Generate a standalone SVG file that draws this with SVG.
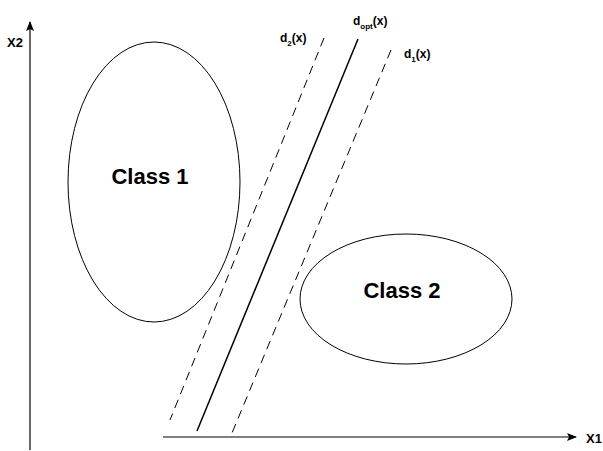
<svg xmlns="http://www.w3.org/2000/svg" width="603" height="451" viewBox="0 0 603 451">
<style>
.lbl{font-family:"Liberation Sans",Arial,sans-serif;font-weight:bold;fill:#000}
.cls{font-size:22px;text-anchor:middle}
.sm{font-size:12px}
.sub{font-size:8px}
.ax{stroke:#000;stroke-width:1.2;fill:none}
.dash{stroke:#000;stroke-width:1;stroke-dasharray:9 6;fill:none}
.ell{stroke:#000;stroke-width:1;fill:none}
</style>
<defs>
<marker id="ah" markerWidth="10" markerHeight="8" refX="9" refY="4" orient="auto" markerUnits="userSpaceOnUse">
<path d="M0,0 L10,4 L0,8 L2,4 Z" fill="#000"/>
</marker>
</defs>
<g id="axes">
<line class="ax" x1="30" y1="450" x2="30" y2="22" marker-end="url(#ah)"/>
<line class="ax" x1="163" y1="437" x2="576" y2="437" marker-end="url(#ah)"/>
<text class="lbl" x="7" y="47" font-size="13">X2</text>
<text class="lbl" x="586" y="443" font-size="13">X1</text>
</g>
<g id="class1">
<ellipse class="ell" cx="154" cy="182" rx="86" ry="140"/>
<text class="lbl cls" x="150" y="184">Class 1</text>
</g>
<g id="class2">
<ellipse class="ell" cx="406" cy="299" rx="106" ry="65"/>
<text class="lbl cls" x="402" y="298">Class 2</text>
</g>
<g id="connectors">
<line class="dash" x1="324" y1="38" x2="170" y2="420"/>
<line stroke="#000" stroke-width="1.5" x1="358" y1="39" x2="197" y2="431"/>
<line class="dash" x1="391" y1="50" x2="232" y2="433"/>
</g>
<g id="labels">
<text class="lbl sm" x="280" y="42">d<tspan class="sub" dy="4">2</tspan><tspan dy="-4">(x)</tspan></text>
<text class="lbl sm" x="353" y="25">d<tspan class="sub" dy="4">opt</tspan><tspan dy="-4">(x)</tspan></text>
<text class="lbl sm" x="404" y="58">d<tspan class="sub" dy="4">1</tspan><tspan dy="-4">(x)</tspan></text>
</g>
</svg>
